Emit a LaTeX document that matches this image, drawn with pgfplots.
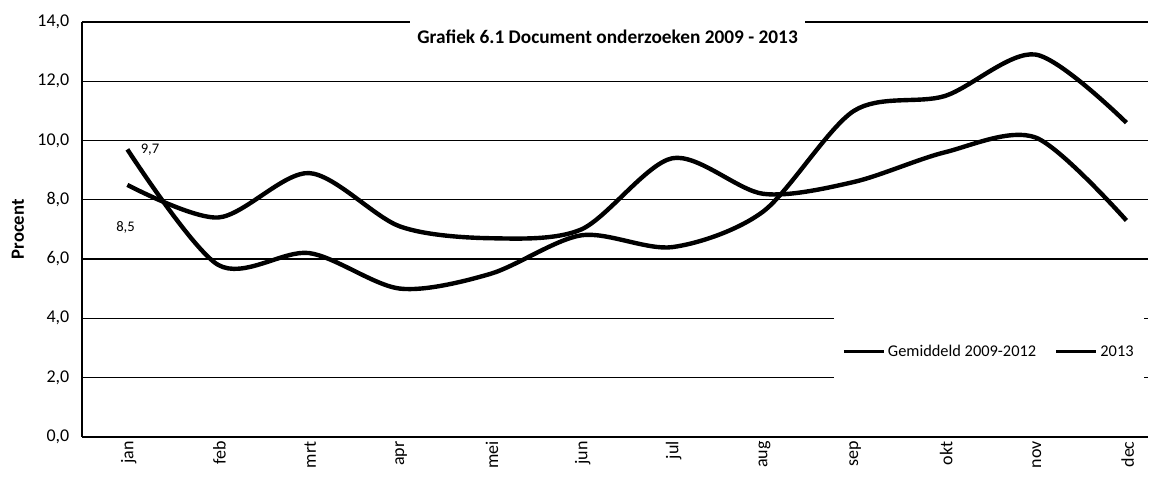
\documentclass[border=0pt]{standalone}
\usepackage{fontspec}
\setmainfont{Carlito}
\usepackage{pgfplots}
\pgfplotsset{compat=1.18}
\begin{document}
\begin{tikzpicture}
\begin{axis}[
  at={(0,0)}, anchor=south west,
  scale only axis,
  width=800.25pt, height=311.25pt,
  xmin=-0.5, xmax=11.24,
  ymin=0, ymax=14,
  ytick={0,2,...,14},
  xtick={0,...,11},
  xticklabels={jan,feb,mrt,apr,mei,jun,jul,aug,sep,okt,nov,dec},
  xticklabel style={rotate=90, anchor=east, font=\fontsize{13.5}{15}\selectfont, yshift=-1pt},
  yticklabel style={font=\fontsize{13.5}{15}\selectfont, xshift=-6pt},
  /pgf/number format/.cd, assume math mode=true, use comma, fixed, fixed zerofill, precision=1,
  /pgfplots/.cd,
  axis x line=bottom, axis y line=left,
  axis line style={-, line width=1.2pt, black},
  major tick length=0pt,
  ymajorgrids,
  grid style={black, line width=0.9pt},
  ylabel={\textbf{Procent}},
  ylabel style={at={(axis description cs:-0.06,0.5)}, anchor=center, font=\fontsize{14}{15}\selectfont},
  legend columns=2,
  legend style={at={(axis description cs:0.851,0.205)}, anchor=center, draw=none, fill=white,
    inner xsep=6pt, inner ysep=21pt, font=\fontsize{12.3}{14}\selectfont,
    /tikz/every even column/.append style={column sep=12pt}},
  legend image code/.code={\draw[black, line width=2.2pt] (0pt,0pt) -- (30pt,0pt);},
  clip=false,
]
\addplot[black, line width=3.3pt, smooth] coordinates {
 (0,8.5) (1,7.4) (2,8.9) (3,7.1) (4,6.7) (5,7.0) (6,9.4) (7,8.2) (8,8.6) (9,9.6) (10,10.1) (11,7.3)};
\addlegendentry{Gemiddeld 2009-2012}
\addplot[black, line width=3.3pt, smooth] coordinates {
 (0,9.7) (1,5.8) (2,6.2) (3,5.0) (4,5.5) (5,6.8) (6,6.4) (7,7.6) (8,11.0) (9,11.5) (10,12.9) (11,10.6)};
\addlegendentry{2013}
\node[font=\fontsize{11}{13}\selectfont] at (axis cs:0.25,9.7) {9,7};
\node[font=\fontsize{11}{13}\selectfont] at (axis cs:-0.02,7.06) {8,5};
\node[fill=white, minimum width=296pt, minimum height=30pt, font=\bfseries\fontsize{14.5}{16}\selectfont]
  at (axis description cs:0.493,0.964) {Grafiek 6.1 Document onderzoeken 2009 - 2013};
\end{axis}
\path[use as bounding box] (-61.5pt,-32.25pt) rectangle (800.25pt,327.75pt);
\end{tikzpicture}
\end{document}
